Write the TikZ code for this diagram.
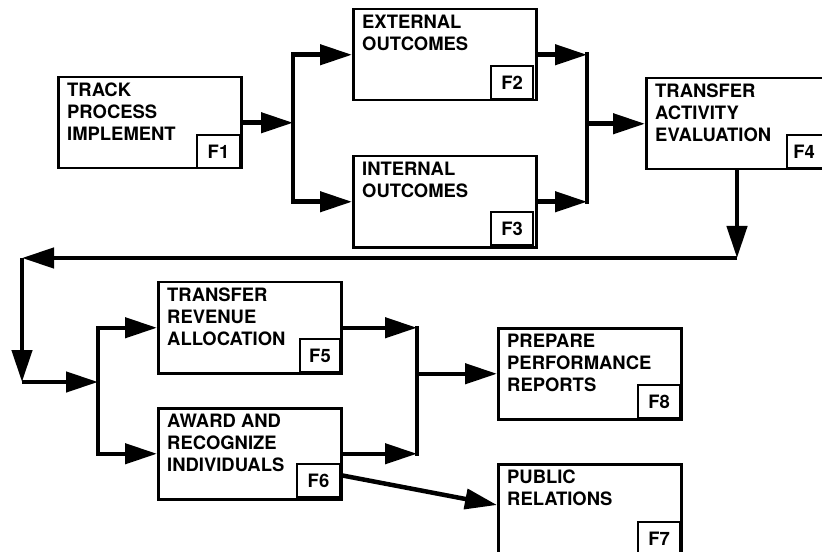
\documentclass[tikz,border=0pt]{standalone}
\usepackage{fontspec}
\setmainfont{TeX Gyre Heros}
\usetikzlibrary{arrows.meta,calc}
\tikzset{
  box/.style={draw, line width=2.5bp, rectangle, anchor=north west, minimum width=183bp, minimum height=91bp, inner sep=0, outer sep=1.25bp},
  tagbox/.style={draw, line width=2.5bp, rectangle, anchor=south east, minimum width=42bp, minimum height=33bp, inner sep=0, outer sep=0, font=\fontsize{18.5}{22}\selectfont\bfseries},
  txt/.style={anchor=north west, inner sep=0, align=left, font=\fontsize{18.5}{22}\selectfont\bfseries},
  conn/.style={line width=4.5bp, line join=miter},
  arr/.style={-{Triangle[length=32bp,width=20bp]}},
}
\begin{document}
\begin{tikzpicture}[x=1bp,y=-1bp]
\useasboundingbox (0,0) rectangle (822,552);
\clip (0,0) rectangle (822,552);
% boxes
\node[box] (F1) at (57,76) {};
\node[box] (F2) at (352,8) {};
\node[box] (F3) at (352,155) {};
\node[box, minimum width=186bp] (F4) at (645,77) {};
\node[box] (F5) at (157,281) {};
\node[box] (F6) at (157,407) {};
\node[box] (F8) at (497,327) {};
\node[box, minimum height=93bp] (F7) at (497,463) {};
% texts
\node[txt] (F1t) at ($(F1.north west)+(10,7)$) {TRACK\\PROCESS\\IMPLEMENT};
\node[txt] (F2t) at ($(F2.north west)+(10,7)$) {EXTERNAL\\OUTCOMES};
\node[txt] (F3t) at ($(F3.north west)+(10,7)$) {INTERNAL\\OUTCOMES};
\node[txt] (F4t) at ($(F4.north west)+(10,7)$) {TRANSFER\\ACTIVITY\\EVALUATION};
\node[txt] (F5t) at ($(F5.north west)+(10,7)$) {TRANSFER\\REVENUE\\ALLOCATION};
\node[txt] (F6t) at ($(F6.north west)+(10,7)$) {AWARD AND\\RECOGNIZE\\INDIVIDUALS};
\node[txt] (F8t) at ($(F8.north west)+(10,7)$) {PREPARE\\PERFORMANCE\\REPORTS};
\node[txt] (F7t) at ($(F7.north west)+(10,7)$) {PUBLIC\\RELATIONS};
% tags
\node[tagbox, minimum width=43bp] (F1g) at (240,168) {F1};
\node[tagbox] (F2g) at (533,99) {F2};
\node[tagbox] (F3g) at (533,245) {F3};
\node[tagbox, minimum width=42bp] (F4g) at (829,168) {\hspace*{-8bp}F4};
\node[tagbox, minimum width=40bp] (F5g) at (340,372) {F5};
\node[tagbox, minimum width=43bp] (F6g) at (340,497) {F6};
\node[tagbox] (F8g) at (680,418) {F8};
\node[tagbox] (F7g) at (680,555) {F7};
% junction coordinates
\coordinate (j1) at (293,0);
\coordinate (j2) at (587,0);
\coordinate (c1) at (737,258);
\coordinate (c2) at (22,258);
\coordinate (c3) at (22,382);
\coordinate (j3) at (98,382);
\coordinate (j4) at (417,0);
% connectors
\draw[conn,arr] (F1.east) -- (F1.east -| j1);
\draw[conn,arr] (F1.east -| j1) |- (F2.west);
\draw[conn,arr] (F1.east -| j1) |- (F3.west);
\draw[conn,arr] (F2.east) -- (F2.east -| j2);
\draw[conn,arr] (F3.east) -- (F3.east -| j2);
\draw[conn,line cap=rect] (F2.east -| j2) -- (F3.east -| j2);
\draw[conn,arr] (F4.west -| j2) -- (F4.west);
\draw[conn,arr] (F4.south -| c1) -- (c1);
\draw[conn,arr] (c1) -- (c2);
\draw[conn,arr] (c2) -- (c3);
\draw[conn,arr] (c3) -- (j3);
\draw[conn,arr] (j3) |- (F5.west);
\draw[conn,arr] (j3) |- (F6.west);
\draw[conn,arr] (F5.east) -- (F5.east -| j4);
\draw[conn,arr] (F6.east) -- (F6.east -| j4);
\draw[conn,line cap=rect] (F5.east -| j4) -- (F6.east -| j4);
\draw[conn,arr] (F8.west -| j4) -- (F8.west);
\draw[conn,arr] ($(F6.south east)+(0,-25)$) -- ($(F7.north west)+(0,42)$);
\end{tikzpicture}
\end{document}
